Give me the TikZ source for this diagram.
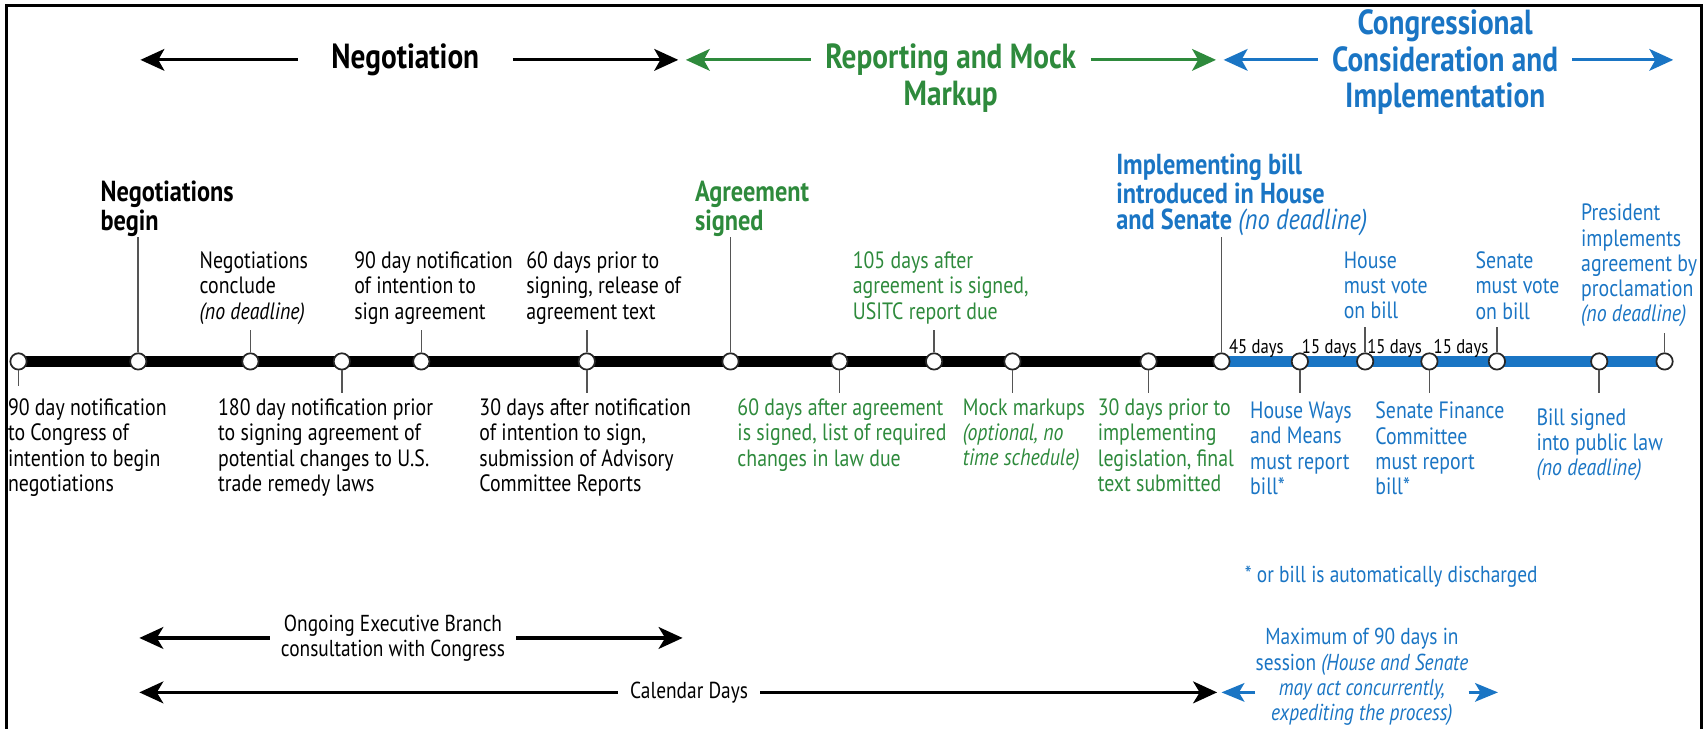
\documentclass[tikz,border=0pt]{standalone}
\usepackage{fontspec}
\setmainfont{PT Sans}[FakeStretch=0.84]
\usetikzlibrary{arrows.meta,calc}
\definecolor{tgreen}{HTML}{2E8A3C}
\definecolor{tblue}{HTML}{1A75C4}
\definecolor{tconn}{HTML}{555555}
\newcommand\lblsize{\fontsize{10.85}{11.6}\selectfont}
\newcommand\bldsize{\fontsize{13.3}{12.1}\selectfont\bfseries}
\newcommand\hdrsize{\fontsize{16}{16.8}\selectfont\bfseries}
\newcommand\daysize{\fontsize{9.1}{10}\selectfont}
\newcommand\btmsize{\fontsize{10.6}{11.6}\selectfont}
\tikzset{
  dot/.style={circle, draw=black!85, fill=white, line width=0.8pt, minimum size=7.5pt, inner sep=0pt},
  conn/.style={draw=tconn, line width=0.7pt},
  lbl/.style={inner sep=0pt, anchor=north west, align=left, font=\lblsize},
  bld/.style={inner sep=0pt, anchor=north west, align=left, font=\bldsize},
  hdr/.style={inner sep=0pt, align=center, font=\hdrsize},
  days/.style={inner sep=0pt, anchor=base, font=\daysize},
  btm/.style={inner sep=0pt, align=center, font=\btmsize},
  harr/.style={line width=1.3pt, -{Stealth[length=11pt,width=10pt,inset=2.8pt]}},
  barr/.style={line width=1.6pt, -{Stealth[length=11pt,width=10pt,inset=3pt]}},
  sarr/.style={line width=1.5pt, -{Stealth[length=10.5pt,width=8.5pt,inset=2.5pt]}},
}
\begin{document}
\begin{tikzpicture}[x=0.5pt,y=-0.5pt]
\useasboundingbox (0,0) rectangle (1568,669);
% frame (open at bottom)
\draw[line width=1.4pt] (6,690) -- (6,5) -- (1562.5,5) -- (1562.5,690);

% timeline points
\foreach \i/\x in {1/17,2/127,3/230,4/314,5/387,6/539,7/671,8/771,9/858,10/930,11/1055,12/1122,13/1194,14/1254,15/1313,16/1375,17/1469,18/1529}
  \coordinate (p\i) at (\x,332);
\draw[line width=5.3pt] (p1) -- (p12);
\draw[line width=5.3pt, tblue] (p12) -- (p18);
\foreach \i in {1,...,18} \node[dot] (m\i) at (p\i) {};

% connector levels
\coordinate (lvB) at (0,361);
\coordinate (lvBa) at (0,355);
\coordinate (lvA) at (0,303);
\coordinate (lvAv) at (0,300);
\coordinate (lvAp) at (0,306);
\coordinate (lvT) at (0,218);

% labels
\node[lbl] (l1) at (7,366) {90 day notification\\to Congress of\\intention to begin\\negotiations};
\node[bld] (l2) at (92,166) {Negotiations\\begin};
\node[lbl] (l3) at (183,231) {Negotiations\\conclude\\\textit{(no deadline)}};
\node[lbl] (l4) at (200,366) {180 day notification prior\\to signing agreement of\\potential changes to U.S.\\trade remedy laws};
\node[lbl] (l5) at (325,231) {90 day notification\\of intention to\\sign agreement};
\node[lbl] (l6) at (483,231) {60 days prior to\\signing, release of\\agreement text};
\node[lbl] (l6b) at (440,366) {30 days after notification\\of intention to sign,\\submission of Advisory\\Committee Reports};
\node[bld, text=tgreen] (l7) at (638,166) {Agreement\\signed};
\node[lbl, text=tgreen] (l8) at (677,366) {60 days after agreement\\is signed, list of required\\changes in law due};
\node[lbl, text=tgreen] (l9) at (783,231) {105 days after\\agreement is signed,\\USITC report due};
\node[lbl, text=tgreen] (l10) at (884,366) {Mock markups\\\textit{(optional, no}\\\textit{time schedule)}};
\node[lbl, text=tgreen] (l11) at (1008,366) {30 days prior to\\implementing\\legislation, final\\text submitted};
\node[bld, text=tblue] (l12) at (1025,141) {Implementing bill\\introduced in House\\and Senate {\mdseries\itshape (no deadline)}};
\node[lbl, text=tblue] (l13) at (1148,369) {House Ways\\and Means\\must report\\bill*};
\node[lbl, text=tblue] (l14) at (1234,231) {House\\must vote\\on bill};
\node[lbl, text=tblue] (l15) at (1263,369) {Senate Finance\\Committee\\must report\\bill*};
\node[lbl, text=tblue] (l16) at (1355,231) {Senate\\must vote\\on bill};
\node[lbl, text=tblue] (l17) at (1411,375) {Bill signed\\into public law\\\textit{(no deadline)}};
\node[lbl, text=tblue] (l18) at (1452,187) {President\\implements\\agreement by\\proclamation\\\textit{(no deadline)}};

% connectors
\draw[conn] (m1) -- (m1 |- lvBa);
\foreach \i in {4,6,8,10,11,13,15,17} \draw[conn] (m\i) -- (m\i |- lvB);
\foreach \i in {3,5,6,9} \draw[conn] (m\i) -- (m\i |- lvA);
\foreach \i in {2,7,12} \draw[conn] (m\i) -- (m\i |- lvT);
\foreach \i in {14,16} \draw[conn] (m\i) -- (m\i |- lvAv);
\draw[conn] (m18) -- (m18 |- lvAp);

% day spans
\node[days] (d1) at (1154,325) {45 days};
\node[days] (d2) at (1221,325) {15 days};
\node[days] (d3) at (1281,325) {15 days};
\node[days] (d4) at (1342,325) {15 days};

% headers
\coordinate (hkL) at (129,55);
\coordinate (hkR) at (623,55);
\coordinate (hgL) at (630,55);
\coordinate (hgR) at (1117,55);
\coordinate (hbL) at (1124,55);
\coordinate (hbR) at (1537,55);
\node[hdr, minimum width=98.3pt] (hneg) at (372.3,55) {Negotiation};
\node[hdr, text=tgreen, minimum width=128.3pt] (hrep) at (873.3,72) {Reporting and Mock\\Markup};
\node[hdr, text=tblue, minimum width=116.5pt] (hcon) at (1327.5,57) {Congressional\\Consideration and\\Implementation};
\draw[harr] (hneg) -- (hkL);
\draw[harr] (hneg) -- (hkR);
\draw[harr, tgreen] (hrep.west |- hgL) -- (hgL);
\draw[harr, tgreen] (hrep.east |- hgR) -- (hgR);
\draw[harr, tblue] (hcon.west |- hbL) -- (hbL);
\draw[harr, tblue] (hcon.east |- hbR) -- (hbR);

% footnote
\node[btm, text=tblue] (fn) at (1278,530) {* or bill is automatically discharged};

% bottom spans
\coordinate (oL) at (128,586);
\coordinate (oR) at (627,586);
\coordinate (cL) at (128,636);
\coordinate (cR) at (1118,636);
\coordinate (xL) at (1122,636);
\coordinate (xR) at (1376,636);
\node[btm, minimum width=113pt] (ong) at (361,586) {Ongoing Executive Branch\\consultation with Congress};
\node[btm, minimum width=65pt] (cal) at (633,636) {Calendar Days};
\node[btm, text=tblue, minimum width=84pt] (mx) at (1251,622) {Maximum of 90 days in\\session \textit{(House and Senate}\\\textit{may act concurrently,}\\\textit{expediting the process)}};
\draw[barr] (ong) -- (oL);
\draw[barr] (ong) -- (oR);
\draw[barr] (cal) -- (cL);
\draw[barr] (cal) -- (cR);
\draw[sarr, tblue] (mx.west |- xL) -- (xL);
\draw[sarr, tblue] (mx.east |- xR) -- (xR);
\end{tikzpicture}
\end{document}
